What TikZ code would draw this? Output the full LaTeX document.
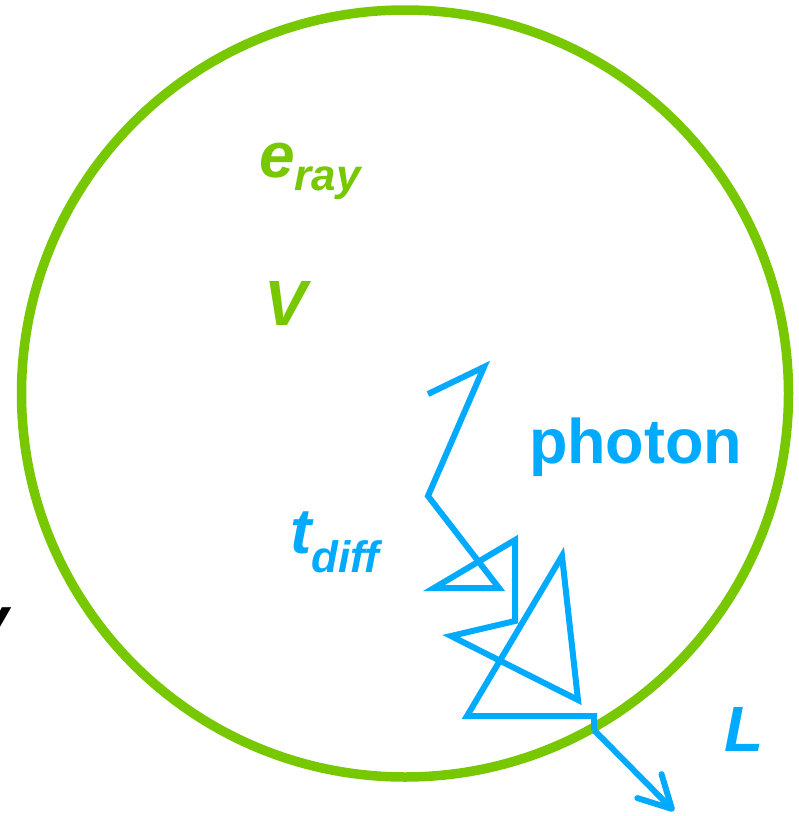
\documentclass[tikz,border=0pt]{standalone}
\usepackage{fontspec}
\setmainfont{Liberation Sans}
\usetikzlibrary{arrows.meta}
\definecolor{ringgreen}{RGB}{119,200,0}
\definecolor{photonblue}{RGB}{0,170,255}
\newcommand{\bigbi}{\fontsize{64pt}{64pt}\selectfont\bfseries\itshape}
\newcommand{\subbi}{\fontsize{44pt}{44pt}\selectfont\bfseries\itshape}
\tikzset{
  lbl/.style={anchor=base west, inner sep=0pt, outer sep=0pt},
  ring/.style={draw=ringgreen, line width=9.5pt},
  walk/.style={draw=photonblue, line width=6pt, line join=miter},
  escape/.style={draw=photonblue, line width=6pt,
     -{Straight Barb[length=32pt,width=34pt,line cap=round,round]}},
}
\begin{document}
\begin{tikzpicture}[x=1pt,y=-1pt]
\useasboundingbox (0,0) rectangle (798,816);
\fill[white] (0,0) rectangle (798,816);
% ring
\draw[ring] (405,393.5) circle[radius=383.5];
% labels
\node[lbl, text=ringgreen] (eray) at (259,177) {\bigbi e\raisebox{-13pt}{\subbi ray}};
\node[lbl, text=ringgreen] (vol) at (264,325) {\bigbi V};
\node[lbl, text=photonblue] (photon) at (529,463) {\fontsize{63pt}{63pt}\selectfont\bfseries photon};
\node[lbl, text=photonblue] (tdiff) at (290,553) {\bigbi t\raisebox{-19pt}{\subbi diff}};
\node[lbl, text=photonblue] (ell) at (724,751) {\bigbi L};
\node[lbl, text=black] (ylbl) at (-26,641) {\bigbi y};
% random walk points
\coordinate (p0) at (428,394);
\coordinate (p1) at (484,367);
\coordinate (p2) at (428,496);
\coordinate (p3) at (499,588);
\coordinate (p4) at (434,588);
\coordinate (p5) at (515,540);
\coordinate (p6) at (515,621);
\coordinate (p7) at (451,636);
\coordinate (p8) at (578,700);
\coordinate (p9) at (562,556);
\coordinate (p10) at (467,716);
\coordinate (p11) at (594,716);
\coordinate (p12) at (594,730);
\coordinate (tip) at (674,811);
\draw[walk] (p0) -- (p1) -- (p2) -- (p3) -- (p4) -- (p5) -- (p6) -- (p7)
  -- (p8) -- (p9) -- (p10) -- (p11) -- (p12);
\draw[escape] (p12) -- (tip);
\end{tikzpicture}
\end{document}
